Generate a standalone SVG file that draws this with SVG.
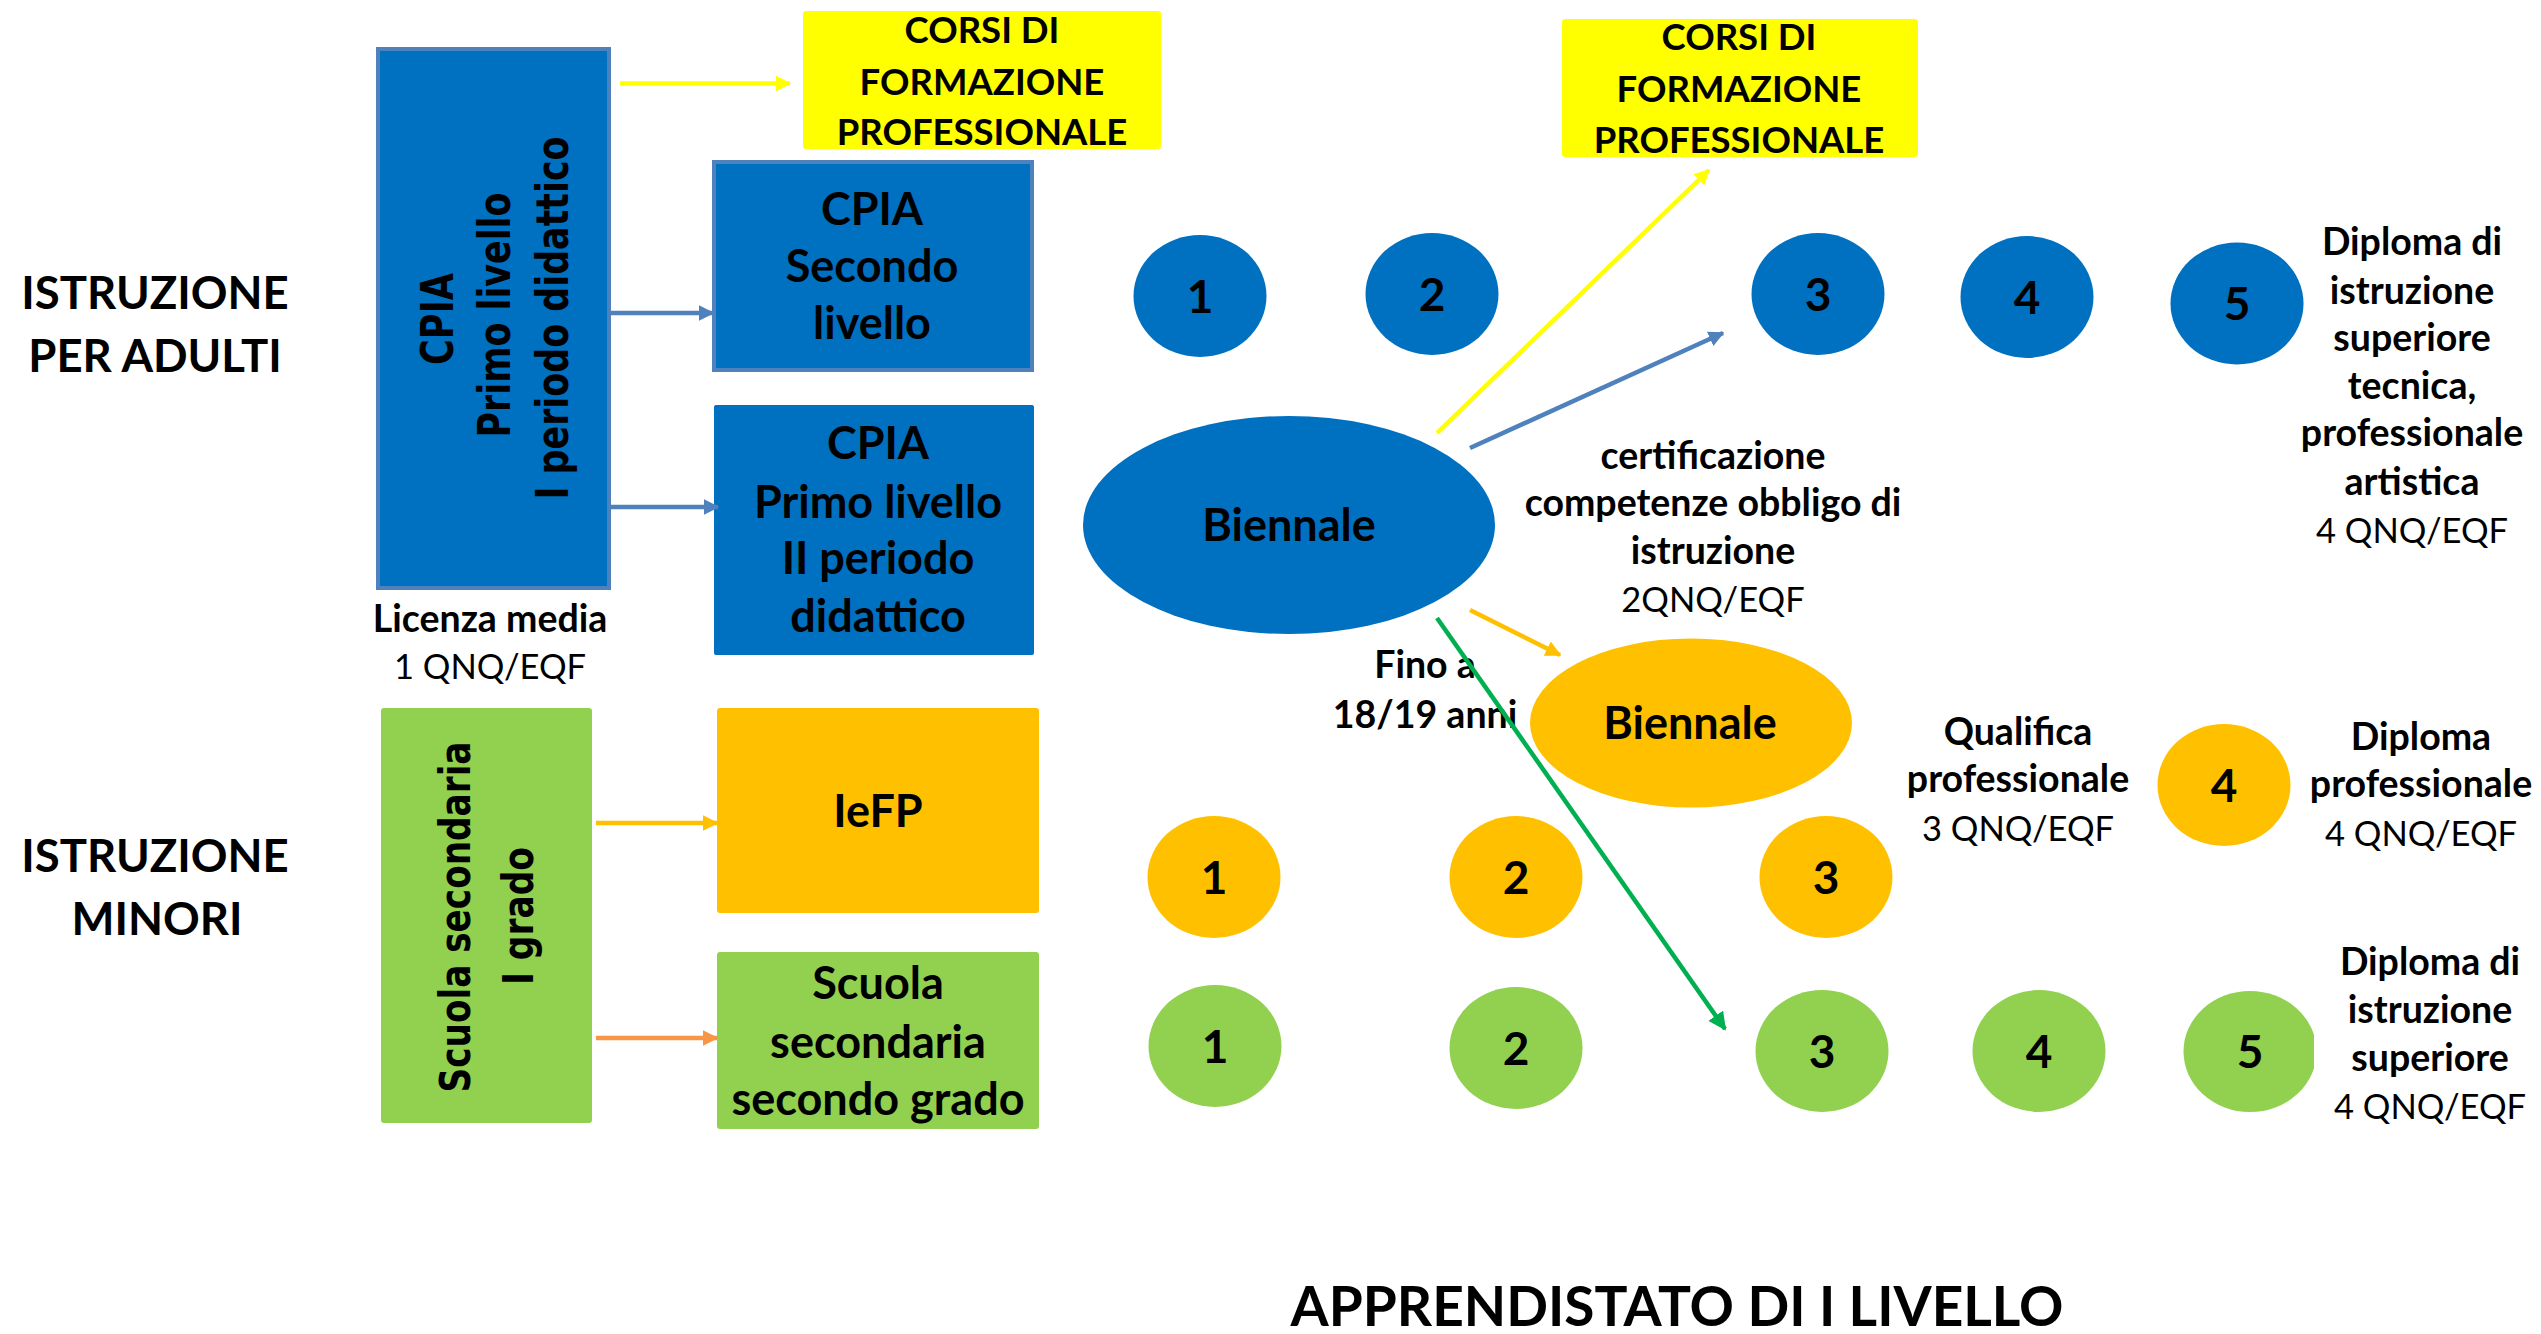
<svg xmlns="http://www.w3.org/2000/svg" width="2541" height="1334" viewBox="0 0 2541 1334">
<style>
text{font-family:Lato,"Liberation Sans",sans-serif;fill:#000;text-anchor:middle}
.t{font-size:45.5px;font-weight:700}
.y{font-size:36.5px;font-weight:700}
.bx{font-size:45px;font-weight:700}
.b{font-size:37.5px;font-weight:700}
.r{font-size:34.5px;font-weight:400}
.num{font-size:46px;font-weight:700}
.rot{font-family:"DejaVu Sans",Verdana,sans-serif;font-weight:700}
.blue{fill:#0070C0}
.green{fill:#92D050}
.orange{fill:#FFC000}
.yellow{fill:#FFFF00}
.ln{fill:none;stroke-width:4.5}
</style>
<defs>
<marker id="aY" viewBox="0 0 10 10" refX="9" refY="5" markerWidth="3.5" markerHeight="3.5" orient="auto"><path d="M0,0L10,5L0,10z" fill="#FFFF00"/></marker>
<marker id="aB" viewBox="0 0 10 10" refX="9" refY="5" markerWidth="3.5" markerHeight="3.5" orient="auto"><path d="M0,0L10,5L0,10z" fill="#4F81BD"/></marker>
<marker id="aO" viewBox="0 0 10 10" refX="9" refY="5" markerWidth="3.5" markerHeight="3.5" orient="auto"><path d="M0,0L10,5L0,10z" fill="#FFC000"/></marker>
<marker id="aO2" viewBox="0 0 10 10" refX="9" refY="5" markerWidth="3.5" markerHeight="3.5" orient="auto"><path d="M0,0L10,5L0,10z" fill="#F79646"/></marker>
<marker id="aG" viewBox="0 0 10 10" refX="9" refY="5" markerWidth="4" markerHeight="4" orient="auto"><path d="M0,0L10,5L0,10z" fill="#00B050"/></marker>
<clipPath id="clip5"><rect x="2100" y="980" width="214" height="140"/></clipPath>
</defs>
<rect width="2541" height="1334" fill="#fff"/>

<g id="title-adulti">
<text class="t" x="155" y="309">ISTRUZIONE</text>
<text class="t" x="155" y="372">PER ADULTI</text>
</g>
<g id="title-minori">
<text class="t" x="155" y="872">ISTRUZIONE</text>
<text class="t" x="157" y="935">MINORI</text>
</g>

<g id="cpia-primo-I">
<rect x="378" y="49" width="231" height="539" class="blue" stroke="#4F81BD" stroke-width="4"/>
<text class="rot" font-size="44" transform="translate(453,319) rotate(-90)" textLength="92" lengthAdjust="spacingAndGlyphs">CPIA</text>
<text class="rot" font-size="44" transform="translate(510,315) rotate(-90)" textLength="245" lengthAdjust="spacingAndGlyphs">Primo livello</text>
<text class="rot" font-size="44" transform="translate(568,318) rotate(-90)" textLength="363" lengthAdjust="spacingAndGlyphs">I periodo didattico</text>
</g>

<g id="licenza">
<text class="b" x="490" y="632">Licenza media</text>
<text class="r" x="490" y="679">1 QNQ/EQF</text>
</g>

<g id="corsi1">
<rect x="803" y="11" width="358" height="138" rx="3" class="yellow"/>
<text class="y" x="982" y="43">CORSI DI</text>
<text class="y" x="982" y="95">FORMAZIONE</text>
<text class="y" x="982" y="145">PROFESSIONALE</text>
</g>

<g id="cpia-secondo">
<rect x="714" y="162" width="318" height="208" class="blue" stroke="#4F81BD" stroke-width="4"/>
<text class="bx" x="872" y="225">CPIA</text>
<text class="bx" x="872" y="282">Secondo</text>
<text class="bx" x="872" y="339">livello</text>
</g>

<g id="cpia-primo-II">
<rect x="714" y="405" width="320" height="250" rx="2" class="blue"/>
<text class="bx" x="878" y="459">CPIA</text>
<text class="bx" x="878" y="518">Primo livello</text>
<text class="bx" x="878" y="574">II periodo</text>
<text class="bx" x="878" y="632">didattico</text>
</g>

<g id="scuola-I">
<rect x="381" y="708" width="211" height="415" rx="3" class="green"/>
<text class="rot" font-size="42" transform="translate(470,917) rotate(-90)" textLength="351" lengthAdjust="spacingAndGlyphs">Scuola secondaria</text>
<text class="rot" font-size="42" transform="translate(533,916) rotate(-90)" textLength="138" lengthAdjust="spacingAndGlyphs">I grado</text>
</g>

<g id="iefp">
<rect x="717" y="708" width="322" height="205" rx="3" class="orange"/>
<text class="bx" x="878" y="827">IeFP</text>
</g>

<g id="scuola-II">
<rect x="717" y="952" width="322" height="177" rx="3" class="green"/>
<text class="bx" x="878" y="999">Scuola</text>
<text class="bx" x="878" y="1058">secondaria</text>
<text class="bx" x="878" y="1115">secondo grado</text>
</g>

<g id="corsi2">
<rect x="1562" y="19" width="356" height="138" rx="3" class="yellow"/>
<text class="y" x="1739" y="50">CORSI DI</text>
<text class="y" x="1739" y="102">FORMAZIONE</text>
<text class="y" x="1739" y="153">PROFESSIONALE</text>
</g>

<g id="blue-row">
<g id="b1"><ellipse cx="1200" cy="296" rx="66.5" ry="61" class="blue"/><text class="num" x="1200" y="313">1</text></g>
<g id="b2"><ellipse cx="1432" cy="294" rx="66.5" ry="61" class="blue"/><text class="num" x="1432" y="311">2</text></g>
<g id="b3"><ellipse cx="1818" cy="294" rx="66.5" ry="61" class="blue"/><text class="num" x="1818" y="311">3</text></g>
<g id="b4"><ellipse cx="2027" cy="297" rx="66.5" ry="61" class="blue"/><text class="num" x="2027" y="314">4</text></g>
<g id="b5"><ellipse cx="2237" cy="303.5" rx="66.5" ry="61" class="blue"/><text class="num" x="2237" y="320">5</text></g>
</g>

<g id="biennale-blue">
<ellipse cx="1289" cy="525" rx="206" ry="109" class="blue"/>
<text class="bx" x="1289" y="541">Biennale</text>
</g>

<g id="biennale-orange">
<ellipse cx="1691" cy="723" rx="161" ry="84.5" class="orange"/>
<text class="bx" x="1690" y="739">Biennale</text>
</g>

<g id="orange-row">
<g id="o1"><ellipse cx="1214" cy="877" rx="66.5" ry="61" class="orange"/><text class="num" x="1214" y="894">1</text></g>
<g id="o2"><ellipse cx="1516" cy="877" rx="66.5" ry="61" class="orange"/><text class="num" x="1516" y="894">2</text></g>
<g id="o3"><ellipse cx="1826" cy="877" rx="66.5" ry="61" class="orange"/><text class="num" x="1826" y="894">3</text></g>
<g id="o4"><ellipse cx="2224" cy="785" rx="66.5" ry="61" class="orange"/><text class="num" x="2224" y="802">4</text></g>
</g>

<g id="green-row">
<g id="g1"><ellipse cx="1215" cy="1046" rx="66.5" ry="61" class="green"/><text class="num" x="1215" y="1063">1</text></g>
<g id="g2"><ellipse cx="1516" cy="1048" rx="66.5" ry="61" class="green"/><text class="num" x="1516" y="1065">2</text></g>
<g id="g3"><ellipse cx="1822" cy="1051" rx="66.5" ry="61" class="green"/><text class="num" x="1822" y="1068">3</text></g>
<g id="g4"><ellipse cx="2039" cy="1051" rx="66.5" ry="61" class="green"/><text class="num" x="2039" y="1068">4</text></g>
<g id="g5"><ellipse cx="2250" cy="1051.5" rx="66.5" ry="60.5" class="green" clip-path="url(#clip5)"/><text class="num" x="2250" y="1068">5</text></g>
</g>

<g id="label-cert">
<text class="b" x="1713" y="469">certificazione</text>
<text class="b" x="1713" y="516">competenze obbligo di</text>
<text class="b" x="1713" y="564">istruzione</text>
<text class="r" x="1713" y="612">2QNQ/EQF</text>
</g>

<g id="label-diploma-tecnica">
<text class="b" x="2412" y="255">Diploma di</text>
<text class="b" x="2412" y="304">istruzione</text>
<text class="b" x="2412" y="351">superiore</text>
<text class="b" x="2412" y="399">tecnica,</text>
<text class="b" x="2412" y="446">professionale</text>
<text class="b" x="2412" y="495">artistica</text>
<text class="r" x="2412" y="543">4 QNQ/EQF</text>
</g>

<g id="label-fino">
<text class="b" x="1425" y="678">Fino a</text>
<text class="b" x="1425" y="728">18/19 anni</text>
</g>

<g id="label-qualifica">
<text class="b" x="2018" y="745">Qualifica</text>
<text class="b" x="2018" y="792">professionale</text>
<text class="r" x="2018" y="841">3 QNQ/EQF</text>
</g>

<g id="label-diploma-prof">
<text class="b" x="2421" y="750">Diploma</text>
<text class="b" x="2421" y="797">professionale</text>
<text class="r" x="2421" y="846">4 QNQ/EQF</text>
</g>

<g id="label-diploma-sup">
<text class="b" x="2430" y="975">Diploma di</text>
<text class="b" x="2430" y="1023">istruzione</text>
<text class="b" x="2430" y="1071">superiore</text>
<text class="r" x="2430" y="1119">4 QNQ/EQF</text>
</g>

<g id="label-apprendistato">
<text font-weight="700" font-size="55" x="1677" y="1326">APPRENDISTATO DI I LIVELLO</text>
</g>

<g id="connectors">
<line class="ln" x1="620" y1="83.5" x2="790" y2="83.5" stroke="#FFFF00" marker-end="url(#aY)"/>
<line class="ln" x1="610" y1="313" x2="713" y2="313" stroke="#4F81BD" marker-end="url(#aB)"/>
<line class="ln" x1="610" y1="507" x2="718" y2="507" stroke="#4F81BD" marker-end="url(#aB)"/>
<line class="ln" x1="596" y1="823" x2="717" y2="823" stroke="#FFC000" marker-end="url(#aO)"/>
<line class="ln" x1="596" y1="1038" x2="717" y2="1038" stroke="#F79646" marker-end="url(#aO2)"/>
<line class="ln" x1="1437" y1="433" x2="1709" y2="170" stroke="#FFFF00" marker-end="url(#aY)"/>
<line class="ln" x1="1470" y1="448" x2="1723" y2="333" stroke="#4F81BD" marker-end="url(#aB)"/>
<line class="ln" x1="1470" y1="610" x2="1560" y2="655" stroke="#FFC000" marker-end="url(#aO)"/>
<line class="ln" x1="1437" y1="618" x2="1725" y2="1029" stroke="#00B050" stroke-width="3.5" marker-end="url(#aG)"/>
</g>
</svg>
